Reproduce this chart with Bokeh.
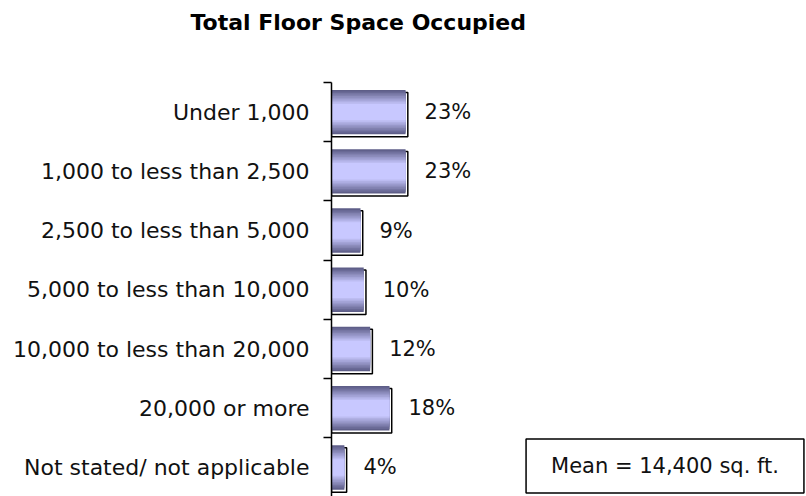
from bokeh.plotting import figure
from bokeh.models import Range1d, FixedTicker, Label, ColumnDataSource
from bokeh.transform import dodge
from bokeh.core.properties import value
from bokeh.embed import file_html
from bokeh.resources import INLINE

categories = ["Under 1,000", "1,000 to less than 2,500", "2,500 to less than 5,000",
              "5,000 to less than 10,000", "10,000 to less than 20,000",
              "20,000 or more", "Not stated/ not applicable"]
values = [23, 23, 9, 10, 12, 18, 4]
pct_labels = [f"{v}%" for v in values]
positions = list(range(len(categories)))
title_text = "Total Floor Space Occupied"
mean_text = "Mean = 14,400 sq. ft."

FONT = "DejaVu Sans"

src = ColumnDataSource(dict(y=positions, v=values, lab=pct_labels))

p = figure(width=806, height=496, output_backend="svg", toolbar_location=None,
           x_range=Range1d(0, 147.5), y_range=Range1d(6.49, -1.226),
           x_axis_location=None, min_border_left=331, min_border_right=0,
           min_border_top=39, min_border_bottom=0)
p.outline_line_color = None
p.grid.visible = False
p.background_fill_color = "white"

p.title.text = title_text
p.title.align = "left"
p.title.offset = -141
p.title.text_font = FONT
p.title.text_font_style = "bold"
p.title.text_font_size = "22px"
p.title.text_color = "black"

ax = p.yaxis[0]
ax.bounds = (-0.5, 6.49)
ax.ticker = FixedTicker(ticks=positions, minor_ticks=[i - 0.5 for i in range(len(categories) + 1)])
ax.major_label_overrides = {i: c for i, c in zip(positions, categories)}
ax.major_tick_out = 0
ax.major_tick_in = 0
ax.minor_tick_out = 8
ax.minor_tick_in = 0
ax.minor_tick_line_color = "black"
ax.minor_tick_line_width = 1.5
ax.axis_line_color = "black"
ax.axis_line_width = 1.5
ax.major_label_text_font = FONT
ax.major_label_text_font_size = "22px"
ax.major_label_text_color = "#111111"
ax.major_label_standoff = 14

BAR_H = 0.75
# shadow outline
p.hbar(y=dodge("y", 0.042), left=0, right=dodge("v", 0.7), height=BAR_H, source=src,
       fill_color=None, line_color="black", line_width=1.5)
# gradient fill via nested layers
dark = (0x5e, 0x5e, 0x88)
light = (0xc8, 0xc8, 0xff)
N = 10
for i in range(N):
    t = i / (N - 1)
    col = "#%02x%02x%02x" % tuple(int(d + (l - d) * t) for d, l in zip(dark, light))
    h = BAR_H * (1 - 0.7 * i / N)
    p.hbar(y="y", left=0, right="v", height=h, source=src, fill_color=col, line_color=None)

p.text(x=dodge("v", 5.9), y="y", text="lab", source=src, text_font=value(FONT),
       text_font_size="21px", text_baseline="middle", text_align="left", text_color="#111111")

p.add_layout(Label(x=333.5, y=30.5, x_units="screen", y_units="screen", text=mean_text,
                   text_font=FONT, text_font_size="21px", text_align="center",
                   text_color="#111111",
                   text_baseline="middle", border_line_color="black", border_line_width=1.5,
                   background_fill_color="white", padding=(25, 15)))

open("out.html", "w").write(file_html(p, INLINE))
